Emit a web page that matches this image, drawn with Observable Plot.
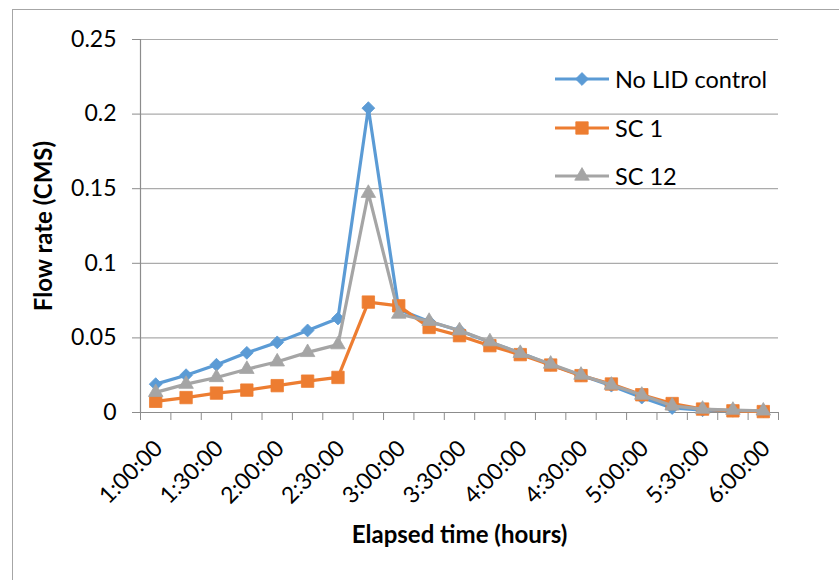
<!DOCTYPE html>
<html>
<head>
<meta charset="utf-8">
<script src="https://cdn.jsdelivr.net/npm/d3@7"></script>
<script src="https://cdn.jsdelivr.net/npm/@observablehq/plot@0.6"></script>
<style>
  body { margin: 0; background: #fff; }
  #wrap { position: relative; width: 839px; height: 580px; overflow: hidden; font-family: Lato, "Open Sans", sans-serif; background: #fff; }
  #border { position: absolute; left: 12px; top: 9px; width: 900px; height: 700px; border: 1px solid #A6A6A6; }
  #chart { position: absolute; left: 0; top: 0; }
  #chart svg { overflow: visible; }
  g[aria-label="y-axis label"] text, g[aria-label="x-axis label"] text { font-weight: bold; font-size: 24px; }
  .item { position: absolute; left: 555px; height: 30px; display: flex; align-items: center; font-size: 23.5px; color: #000; }
  .item span { margin-left: 6px; white-space: nowrap; }
</style>
</head>
<body>
<div id="wrap">
  <div id="border"></div>
  <div id="chart"></div>
  <div id="legend"></div>
</div>
<script>
// ---- data ----
const times = ["1:00:00","1:15:00","1:30:00","1:45:00","2:00:00","2:15:00","2:30:00","2:45:00",
  "3:00:00","3:15:00","3:30:00","3:45:00","4:00:00","4:15:00","4:30:00","4:45:00",
  "5:00:00","5:15:00","5:30:00","5:45:00","6:00:00"];
const noLID = [0.019,0.025,0.032,0.040,0.047,0.055,0.063,0.204,0.069,0.061,0.055,0.047,0.040,0.032,0.025,0.018,0.010,0.003,0.0015,0.0012,0.001];
const sc1   = [0.0075,0.010,0.013,0.015,0.018,0.021,0.0235,0.074,0.0715,0.057,0.0515,0.0448,0.0388,0.0318,0.0247,0.0191,0.0119,0.006,0.0023,0.0011,0.0006];
const sc12  = [0.0135,0.019,0.0235,0.029,0.034,0.0403,0.0455,0.147,0.066,0.0612,0.0549,0.0475,0.0397,0.0325,0.0251,0.0184,0.0117,0.0045,0.0023,0.0016,0.0011];
const seriesNames = ["No LID control", "SC 1", "SC 12"];
const yTicks = [0, 0.05, 0.1, 0.15, 0.2, 0.25];

const colors = ["#5B9BD5", "#ED7D31", "#A5A5A5"];
const symbols = ["diamond2", "square", "triangle"];
const radii = [5.8, 7, 5.4];
const seriesData = [noLID, sc1, sc12];

const labelIdx = times.map((t, i) => i).filter(i => i % 2 === 0);
const boundaries = d3.range(times.length + 1).map(i => i - 0.5);
const fmtY = d => String(+d.toFixed(2));

const marks = [
  Plot.gridY(yTicks, {stroke: "#ABABAB", strokeOpacity: 1, strokeWidth: 1.2}),
  Plot.ruleY([0], {stroke: "#8C8C8C", strokeWidth: 1.2}),
  Plot.ruleX([-0.5], {y1: 0, y2: 0.25, stroke: "#8C8C8C", strokeWidth: 1.2}),
  Plot.axisY(yTicks, {tickSize: 8, tickPadding: 16, tickFormat: fmtY, stroke: "#8C8C8C", fontSize: 23,
    label: "Flow rate (CMS)", labelAnchor: "center", labelOffset: 106, labelArrow: "none"}),
  Plot.axisX(boundaries, {tickSize: 8, tickFormat: () => "", stroke: "#8C8C8C", label: null}),
  Plot.axisX(labelIdx, {tickSize: 0, tickRotate: -45, tickPadding: 28, dx: 3, dy: 4, fontSize: 23, tickFormat: i => times[i],
    label: "Elapsed time (hours)", labelAnchor: "center", labelOffset: 130, labelArrow: "none"})
];
seriesData.forEach((s, k) => {
  marks.push(Plot.lineY(s, {x: (d, i) => i, y: d => d, stroke: colors[k], strokeWidth: 3.2, strokeLinejoin: "round"}));
  marks.push(Plot.dot(s, {x: (d, i) => i, y: d => d, symbol: symbols[k], r: radii[k], fill: colors[k], stroke: colors[k], strokeWidth: 0.8}));
});

const chart = Plot.plot({
  width: 839, height: 580,
  marginLeft: 140, marginRight: 61, marginTop: 39, marginBottom: 168,
  style: {fontFamily: "Lato, 'Open Sans', sans-serif", fontSize: "23px", color: "#000", background: "transparent", overflow: "visible"},
  x: {type: "linear", domain: [-0.5, 20.5]},
  y: {domain: [0, 0.25]},
  marks
});
document.getElementById("chart").appendChild(chart);

// ---- legend ----
const legend = document.getElementById("legend");
const legendY = [79, 127.7, 175.7];
seriesNames.forEach((name, k) => {
  const item = document.createElement("div");
  item.className = "item";
  item.style.top = (legendY[k] - 15) + "px";
  const size = Math.PI * radii[k] * radii[k];
  const symMap = {diamond2: d3.symbolDiamond2, square: d3.symbolSquare, triangle: d3.symbolTriangle};
  const path = d3.symbol(symMap[symbols[k]], size)();
  item.innerHTML = `<svg width="54" height="20" viewBox="0 0 54 20">
      <line x1="0" y1="10" x2="54" y2="10" stroke="${colors[k]}" stroke-width="3.2"/>
      <path d="${path}" transform="translate(27,10)" fill="${colors[k]}" stroke="${colors[k]}" stroke-width="0.8"/>
    </svg><span>${name}</span>`;
  legend.appendChild(item);
});
</script>
</body>
</html>
